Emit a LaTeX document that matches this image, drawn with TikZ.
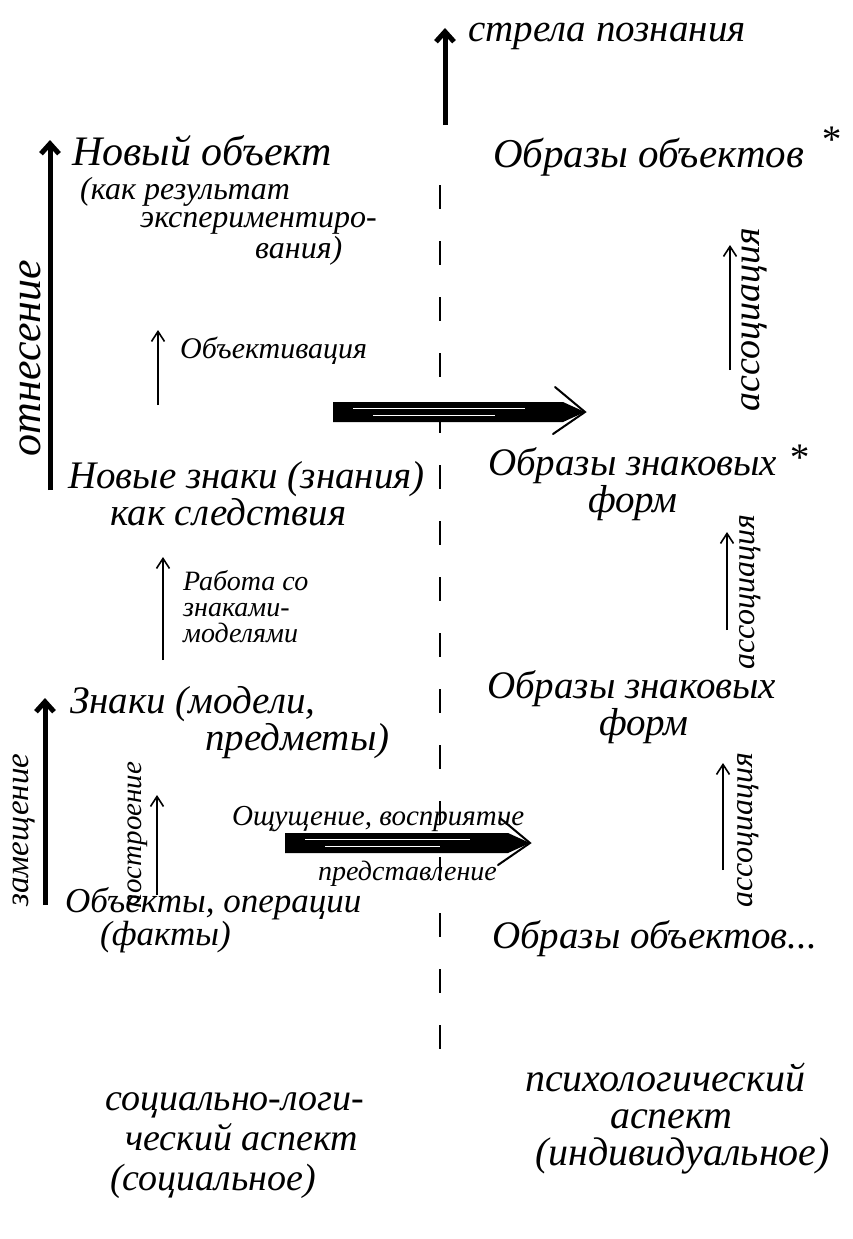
\documentclass[tikz,border=0pt]{standalone}
\usepackage{fontspec}
\setmainfont{Liberation Serif}
\usetikzlibrary{calc,arrows.meta}

\begin{document}
\begin{tikzpicture}[x=1pt, y=-1pt,
    hand/.style={inner sep=0pt, anchor=base west, align=left,
                 font=\itshape\fontsize{39}{29}\selectfont},
    handsm/.style={inner sep=0pt, anchor=base west, align=left,
                 font=\itshape\fontsize{29}{24}\selectfont},
    vlabel/.style={inner sep=0pt, rotate=90,
                 font=\itshape\fontsize{38}{38}\selectfont},
    thinarr/.style={-{Straight Barb[length=10pt,width=13pt]}, line width=1.6pt},
    boldarr/.style={-{Straight Barb[length=10pt,width=18pt]}, line width=5pt}]
  \useasboundingbox (0,0) rectangle (852,1239);

  % axis between the two aspects
  \coordinate (axtop) at (440,185);
  \coordinate (axbot) at (440,1050);
  \draw[line width=2.2pt, dash pattern=on 24pt off 32pt] (axtop) -- (axbot);
  \coordinate (know0) at (445,125);
  \coordinate (know1) at (445,28);
  \draw[boldarr] (know0) -- (know1);
  \node[hand] (know) at (468,42) {стрела познания};

  % left column (multi-line nodes sit on their last line)
  \node[hand, font=\itshape\fontsize{42}{29}\selectfont] (newobj) at (72,165) {Новый объект};
  \node[hand, font=\itshape\fontsize{32}{28}\selectfont] (newobjres) at (80,258)
        {(как результат\\\hspace*{60pt}экспериментиро-\\\hspace*{175pt}вания)};
  \node[handsm, font=\itshape\fontsize{30}{24}\selectfont] (objtxt) at (180,358) {Объективация};
  \node[hand] (newsign) at (68,525)
        {Новые знаки (знания)\\\hspace*{42pt}как следствия};
  \node[handsm, font=\itshape\fontsize{28}{26}\selectfont] (worktxt) at (183,642)
        {Работа со\\знаками-\\моделями};
  \node[hand] (signs) at (70,750) {Знаки (модели,\\\hspace*{135pt}предметы)};
  \node[hand, font=\itshape\fontsize{35}{30}\selectfont] (facts) at (65,945)
        {Объекты, операции\\\hspace*{35pt}(факты)};
  \node[vlabel, font=\itshape\fontsize{44}{44}\selectfont] (otntxt) at (30,358) {отнесение};
  \node[vlabel, font=\itshape\fontsize{33}{33}\selectfont] (zamtxt) at (24,830) {замещение};
  \node[vlabel, font=\itshape\fontsize{29}{29}\selectfont] (posttxt) at (138,835) {построение};

  % right column
  \node[hand, font=\itshape\fontsize{41}{29}\selectfont] (imgobj) at (493,167) {Образы объектов};
  \node[hand] (star1) at (820,152) {*};
  \node[hand] (imgsign) at (488,512) {Образы знаковых\\\hspace*{100pt}форм};
  \node[hand] (star2) at (788,470) {*};
  \node[hand] (imgsign2) at (487,735) {Образы знаковых\\\hspace*{112pt}форм};
  \node[hand] (imgobj2) at (492,948) {Образы объектов...};
  \foreach \n/\x/\y/\s in {1/754/320/38, 2/750/592/32, 3/748/830/32}
    \node[vlabel, font=\itshape\fontsize{\s}{\s}\selectfont] (assoc\n) at (\x,\y) {ассоциация};

  % thin arrows
  \foreach \n/\x/\ya/\yb in {obj/158/405/330, work/163/660/557, post/157/895/795,
                             as1/730/370/245, as2/727/630/532, as3/723/870/763} {
    \coordinate (\n-a) at (\x,\ya);
    \coordinate (\n-b) at (\x,\yb);
    \draw[thinarr] (\n-a) -- (\n-b);
  }
  % thick left arrows
  \coordinate (otn-a) at (50,490);
  \coordinate (otn-b) at (50,140);
  \draw[boldarr] (otn-a) -- (otn-b);
  \coordinate (zam-a) at (45,905);
  \coordinate (zam-b) at (45,698);
  \draw[boldarr] (zam-a) -- (zam-b);

  % broad arrows across the axis
  \foreach \n/\xa/\xb/\y in {up/333/585/412, low/285/530/843} {
    \coordinate (\n-a) at (\xa,\y);
    \coordinate (\n-b) at (\xb,\y);
    \fill ($(\n-a)+(0,-10)$) -- ($(\n-b)+(-22,-10)$) -- (\n-b)
          -- ($(\n-b)+(-22,10)$) -- ($(\n-a)+(0,10)$) -- cycle;
    \draw[line width=2pt, line cap=round] ($(\n-b)+(-30,-25)$) -- (\n-b)
          -- ($(\n-b)+(-32,22)$);
    \draw[white, line width=0.7pt] ($(\n-a)+(20,-4)$) -- ($(\n-b)+(-60,-4)$);
    \draw[white, line width=0.5pt] ($(\n-a)+(40,3)$) -- ($(\n-b)+(-90,3)$);
  }
  \node[handsm] (senstxt) at (232,825) {Ощущение, восприятие};
  \node[handsm, font=\itshape\fontsize{28}{24}\selectfont] (reprtxt) at (318,880) {представление};

  % aspects
  \node[hand, font=\itshape\fontsize{38}{40}\selectfont] (soc) at (105,1190)
        {социально-логи-\\\hspace*{20pt}ческий аспект\\\hspace*{5pt}(социальное)};
  \node[hand, font=\itshape\fontsize{40}{37}\selectfont] (psy) at (525,1165)
        {психологический\\\hspace*{85pt}аспект\\\hspace*{10pt}(индивидуальное)};
\end{tikzpicture}
\end{document}
